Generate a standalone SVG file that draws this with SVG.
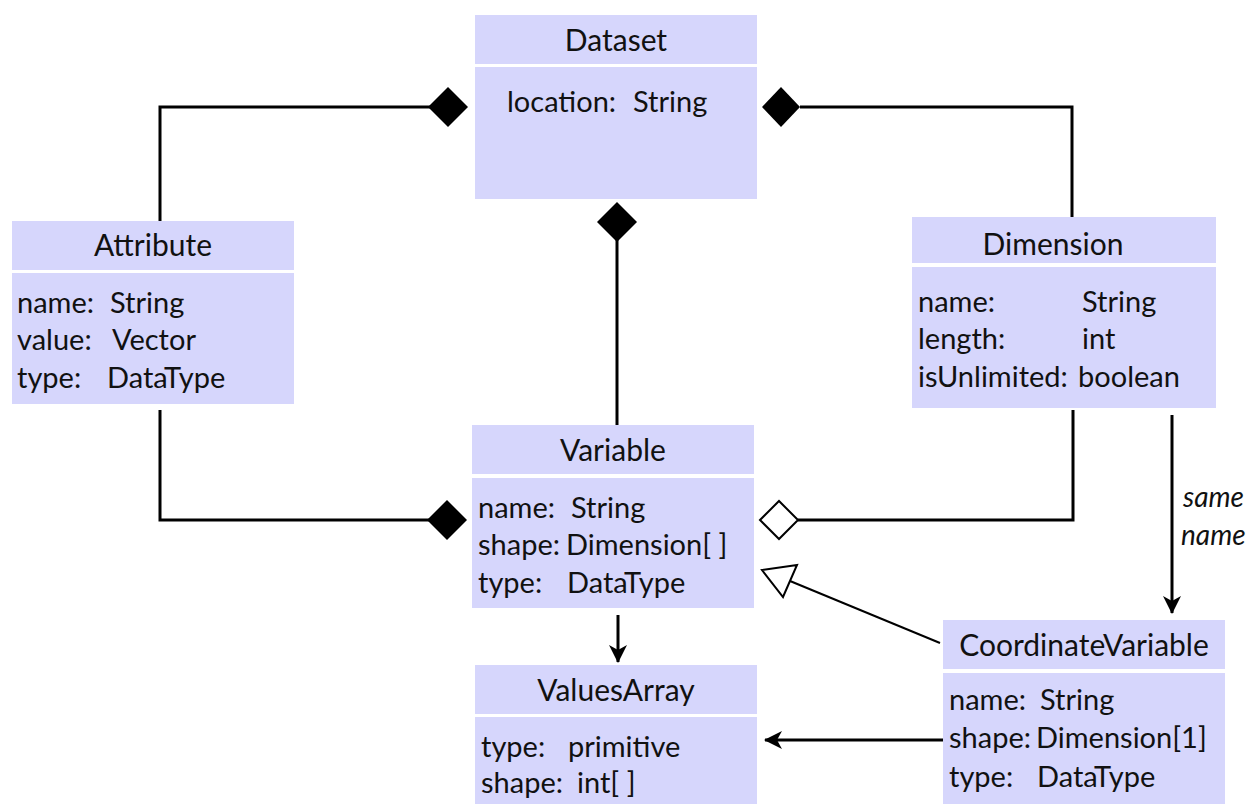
<svg xmlns="http://www.w3.org/2000/svg" width="1253" height="804" viewBox="0 0 1253 804">
  <style>
    .box { fill: #d6d6fc; }
    .t { font-family: Lato, "Open Sans", "DejaVu Sans", sans-serif; font-size: 29px; fill: #111; }
    .title { text-anchor: middle; font-size: 30px; }
    .lbl { font-family: Lato, "Open Sans", "DejaVu Sans", sans-serif; font-size: 28px; font-style: italic; fill: #111; }
    .ln { fill: none; stroke: #000; stroke-width: 3; }
  </style>
  <defs>
    <marker id="arrow" viewBox="0 0 18 18" refX="17" refY="9" markerWidth="18" markerHeight="18" markerUnits="userSpaceOnUse" orient="auto">
      <path d="M0,0 L18,9 L0,18 L5,9 Z" fill="#000"/>
    </marker>
  </defs>
  <rect width="1253" height="804" fill="#fff"/>

  <!-- connectors -->
  <g id="connectors">
    <!-- Attribute composed in Dataset -->
    <polyline class="ln" points="160,221 160,107 430,107"/>
    <polygon points="428,107 448,87 468,107 448,127" fill="#000"/>
    <!-- Dimension composed in Dataset -->
    <polyline class="ln" points="1072,217 1072,107 800,107"/>
    <polygon points="762,107 781,87 800,107 781,127" fill="#000"/>
    <!-- Variable composed in Dataset -->
    <line class="ln" x1="617" y1="425" x2="617" y2="240"/>
    <polygon points="617,202 637,222 617,242 597,222" fill="#000"/>
    <!-- Attribute composed in Variable -->
    <polyline class="ln" points="160,410 160,520 430,520"/>
    <polygon points="427,520 447,500 467,520 447,540" fill="#000"/>
    <!-- Dimension aggregated by Variable -->
    <polyline class="ln" points="1073,410 1073,520 798,520"/>
    <polygon points="760,520 779,501 798,520 779,539" fill="#fff" stroke="#000" stroke-width="2"/>
    <!-- same name -->
    <line class="ln" x1="1172" y1="415" x2="1172" y2="613" marker-end="url(#arrow)"/>
    <text class="lbl" x="1183" y="507">same</text>
    <text class="lbl" x="1181" y="545">name</text>
    <!-- CoordinateVariable extends Variable -->
    <line stroke="#000" stroke-width="2" x1="940" y1="643" x2="790" y2="581"/>
    <polygon points="762,570 797,565 783,597" fill="#fff" stroke="#000" stroke-width="2"/>
    <!-- Variable to ValuesArray -->
    <line class="ln" x1="618" y1="615" x2="618" y2="662" marker-end="url(#arrow)"/>
    <!-- CoordinateVariable to ValuesArray -->
    <line class="ln" x1="943" y1="740" x2="765" y2="740" marker-end="url(#arrow)"/>
  </g>

  <!-- Dataset -->
  <g id="dataset">
    <rect class="box" x="475" y="15" width="282" height="49"/>
    <rect class="box" x="475" y="67" width="282" height="132"/>
    <text class="t title" x="616" y="51">Dataset</text>
    <text class="t" x="507" y="112">location:</text><text class="t" x="633" y="112">String</text>
  </g>

  <!-- Attribute -->
  <g id="attribute">
    <rect class="box" x="12" y="221" width="282" height="49"/>
    <rect class="box" x="12" y="273" width="282" height="131"/>
    <text class="t title" x="153" y="256">Attribute</text>
    <text class="t" x="17" y="313">name:</text><text class="t" x="110" y="313">String</text>
    <text class="t" x="17" y="350">value:</text><text class="t" x="112" y="350">Vector</text>
    <text class="t" x="17" y="388">type:</text><text class="t" x="107" y="388">DataType</text>
  </g>

  <!-- Dimension -->
  <g id="dimension">
    <rect class="box" x="912" y="217" width="304" height="46"/>
    <rect class="box" x="912" y="267" width="304" height="141"/>
    <text class="t title" x="1053" y="255">Dimension</text>
    <text class="t" x="918" y="312">name:</text><text class="t" x="1082" y="312">String</text>
    <text class="t" x="918" y="349">length:</text><text class="t" x="1082" y="349">int</text>
    <text class="t" x="918" y="387">isUnlimited:</text><text class="t" x="1078" y="387">boolean</text>
  </g>

  <!-- Variable -->
  <g id="variable">
    <rect class="box" x="472" y="425" width="282" height="49"/>
    <rect class="box" x="472" y="478" width="282" height="130"/>
    <text class="t title" x="613" y="461">Variable</text>
    <text class="t" x="478" y="518">name:</text><text class="t" x="571" y="518">String</text>
    <text class="t" x="478" y="555">shape:</text><text class="t" x="566" y="555">Dimension[ ]</text>
    <text class="t" x="478" y="593">type:</text><text class="t" x="567" y="593">DataType</text>
  </g>

  <!-- ValuesArray -->
  <g id="valuesarray">
    <rect class="box" x="475" y="665" width="282" height="49"/>
    <rect class="box" x="475" y="717" width="282" height="90"/>
    <text class="t title" x="616" y="701">ValuesArray</text>
    <text class="t" x="481" y="757">type:</text><text class="t" x="568" y="757">primitive</text>
    <text class="t" x="481" y="793">shape:</text><text class="t" x="577" y="793">int[ ]</text>
  </g>

  <!-- CoordinateVariable -->
  <g id="coordinatevariable">
    <rect class="box" x="943" y="620" width="282" height="49"/>
    <rect class="box" x="943" y="673" width="282" height="134"/>
    <text class="t title" x="1084" y="656">CoordinateVariable</text>
    <text class="t" x="949" y="710">name:</text><text class="t" x="1040" y="710">String</text>
    <text class="t" x="949" y="748">shape:</text><text class="t" x="1036" y="748">Dimension[1]</text>
    <text class="t" x="949" y="787">type:</text><text class="t" x="1037" y="787">DataType</text>
  </g>
</svg>
